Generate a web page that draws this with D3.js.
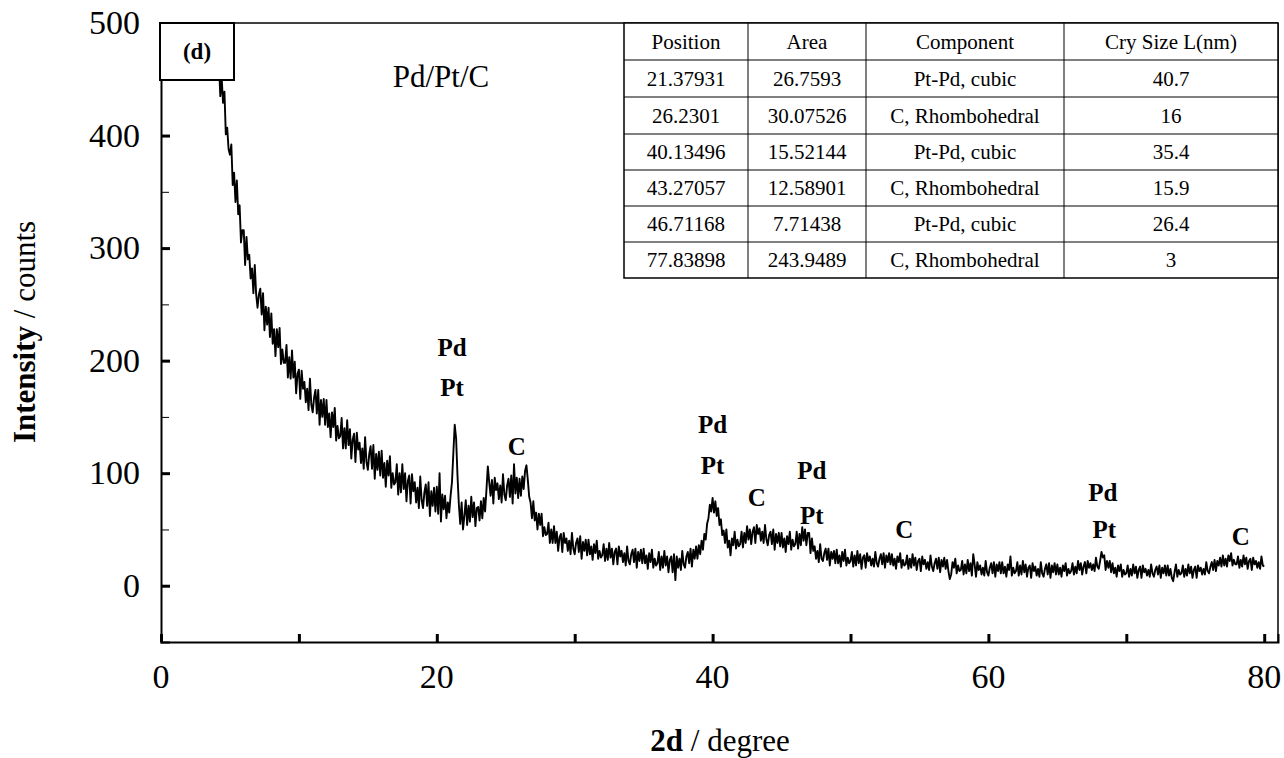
<!DOCTYPE html>
<html><head><meta charset="utf-8">
<script src="https://cdn.jsdelivr.net/npm/d3@7"></script>
<style>
body{margin:0;background:#fff}
svg{display:block}
svg text{font-family:"Liberation Serif","Times New Roman",Times,serif;fill:#000}
</style>
</head><body>
<svg id="chart" width="1284" height="758"></svg>
<script>
// ---------- DATA ----------
const angleStart = 4.0, angleStep = 0.1;
const intensity = [
494,461,466,435,451,429,439,401,407,388,
383,392,356,367,341,360,330,338,305,316,
316,285,310,290,294,273,282,260,285,259,
247,259,264,241,260,227,248,232,247,221,
242,215,228,204,228,212,229,197,210,198,
198,214,185,203,184,209,185,199,171,188,
192,166,191,175,181,163,175,156,184,161,
154,167,174,153,174,143,165,150,166,143,
165,141,153,132,154,141,158,129,142,131,
133,149,122,140,122,147,125,139,113,130,
135,110,136,121,127,109,122,104,132,110,
103,117,124,104,125,95,117,103,119,98,
120,96,109,88,111,98,115,87,100,90,
92,108,81,100,83,108,86,100,75,93,
98,73,99,84,92,74,87,69,97,76,
69,83,90,71,92,62,84,71,87,66,
88,64,100,57,81,68,80,60,74,65,
80,92,118,143,131,98,72,55,74,50,
62,76,54,71,57,79,61,74,53,69,
70,58,75,60,78,66,85,106,92,80,
94,73,96,85,91,77,89,74,99,81,
76,89,95,79,98,73,108,82,96,78,
95,80,97,86,102,107,94,79,74,60,
75,58,65,50,64,54,64,44,52,45,
46,56,38,50,38,53,38,48,31,43,
46,30,47,38,42,31,40,28,47,33,
28,38,42,30,44,24,39,31,41,27,
41,28,35,23,37,29,40,24,31,25,
27,37,22,33,23,38,25,33,19,30,
33,19,35,26,31,21,29,18,35,22,
19,28,32,21,33,16,30,22,32,20,
33,20,27,15,29,21,32,16,24,18,
20,30,14,26,16,31,18,26,12,23,
26,12,28,5,26,16,24,14,31,19,
16,26,30,20,33,17,32,24,35,24,
36,28,40,32,46,41,55,60,72,66,
78,65,75,62,69,54,59,45,49,38,
50,34,40,27,42,36,48,33,41,35,
37,48,34,47,38,53,41,50,37,48,
52,38,54,46,51,40,48,38,54,41,
36,45,48,37,50,32,46,38,47,35,
47,34,42,30,44,37,48,32,41,35,
37,48,33,46,36,52,40,50,36,47,
47,29,42,31,35,24,31,21,37,24,
22,29,33,23,33,18,30,24,31,20,
32,20,27,17,30,22,32,18,25,20,
22,30,17,27,18,31,20,28,15,25,
27,16,29,22,26,18,24,17,30,20,
17,24,28,19,29,16,27,21,29,19,
28,18,24,15,26,21,29,16,23,18,
19,27,15,24,16,28,18,25,14,22,
24,13,26,19,23,15,21,14,27,17,
13,20,24,15,25,12,23,17,25,15,
23,13,6,10,21,16,24,11,18,13,
14,22,10,19,11,23,13,20,9,28,
19,8,21,14,18,10,16,9,22,12,
9,16,20,11,21,8,19,13,21,11,
21,11,17,8,19,14,26,9,16,11,
13,21,9,18,10,22,12,19,8,16,
18,7,20,13,17,9,15,8,21,11,
8,15,19,10,20,7,18,12,20,10,
19,10,16,8,18,13,20,9,15,11,
13,20,10,17,11,22,14,20,10,17,
21,11,22,16,20,14,19,13,25,17,
15,22,30,25,27,14,22,16,22,12,
20,11,16,8,18,13,19,8,14,10,
11,18,8,15,9,19,11,17,7,14,
17,7,18,12,15,9,14,8,19,11,
8,14,17,10,18,7,16,11,18,9,
18,9,15,7,4,12,19,8,14,10,
11,18,8,15,9,19,11,17,7,14,
17,7,18,13,16,10,15,10,21,13,
11,17,21,14,23,13,22,18,25,17,
27,18,24,17,27,22,29,18,23,19,
19,26,16,23,17,27,19,25,15,22,
24,14,25,19,22,16,21,15,26,18,
17
];

const xTicks = [0, 10, 20, 30, 40, 50, 60, 70, 80];
const xTickLabels = [0, 20, 40, 60, 80];
const yMajorTicks = [0, 100, 200, 300, 400, 500];
const yMinorTicks = [-50, 50, 150, 250, 350, 450];

const peakLabelText = ["Pd","Pt","C","Pd","Pt","C","Pd","Pt","C","Pd","Pt","C"];
const peakLabelAngle = [21.1,21.1,25.8,40.0,40.0,43.2,47.2,47.2,53.9,68.3,68.4,78.3];
const peakLabelCount = [204,169,116,136,99,71,95,55,42,75,42,36];

const tableHeader = ["Position","Area","Component","Cry Size L(nm)"];
const tablePosition = ["21.37931","26.2301","40.13496","43.27057","46.71168","77.83898"];
const tableArea = ["26.7593","30.07526","15.52144","12.58901","7.71438","243.9489"];
const tableComponent = ["Pt-Pd, cubic","C, Rhombohedral","Pt-Pd, cubic","C, Rhombohedral","Pt-Pd, cubic","C, Rhombohedral"];
const tableCrySize = ["40.7","16","35.4","15.9","26.4","3"];

const panelLabel = "(d)";
const sampleLabel = "Pd/Pt/C";

// ---------- LAYOUT ----------
const svg = d3.select("#chart");
const L = 161, R = 1278, T = 23, B = 642;
const x = d3.scaleLinear().domain([0, 81]).range([L, R]);
const y = d3.scaleLinear().domain([-50, 500]).range([B, T]);

const data = intensity.map((v, i) => ({a: angleStart + i * angleStep, v}));

svg.append("defs").append("clipPath").attr("id","clip")
  .append("rect").attr("x",L).attr("y",T).attr("width",R-L).attr("height",B-T);

svg.append("path").datum(data)
  .attr("clip-path","url(#clip)")
  .attr("fill","none").attr("stroke","#000").attr("stroke-width",1.9)
  .attr("stroke-linejoin","round")
  .attr("d", d3.line().x(d => x(d.a)).y(d => y(d.v)));

// frame top/right
svg.append("line").attr("x1",L).attr("x2",R).attr("y1",T).attr("y2",T).attr("stroke","#000").attr("stroke-width",1.5);
svg.append("line").attr("x1",R).attr("x2",R).attr("y1",T).attr("y2",B).attr("stroke","#000").attr("stroke-width",1.5);

// x axis
const xAxis = d3.axisBottom(x).tickValues(xTicks).tickSize(-8).tickFormat("");
const gx = svg.append("g").attr("transform",`translate(0,${B})`).call(xAxis);
gx.select(".domain").attr("stroke","#000").attr("stroke-width",2);
gx.selectAll(".tick line").attr("stroke","#000").attr("stroke-width",3);
svg.append("g").selectAll("text").data(xTickLabels).join("text")
  .attr("x", d => x(d)).attr("y", 688)
  .attr("text-anchor","middle").attr("font-size",34)
  .text(d => d);

// y axis
const yAxis = d3.axisLeft(y).tickValues(yMajorTicks).tickSize(-9).tickFormat("");
const gy = svg.append("g").attr("transform",`translate(${L},0)`).call(yAxis);
gy.select(".domain").attr("stroke","#000").attr("stroke-width",2);
gy.selectAll(".tick line").attr("stroke","#000").attr("stroke-width",3);
const yAxisMinor = d3.axisLeft(y).tickValues(yMinorTicks).tickSize(-8).tickFormat("");
const gym = svg.append("g").attr("transform",`translate(${L},0)`).call(yAxisMinor);
gym.select(".domain").remove();
gym.selectAll(".tick line").attr("stroke","#000").attr("stroke-width",1);
svg.append("g").selectAll("text").data(yMajorTicks).join("text")
  .attr("x", 140).attr("y", d => y(d) + 11)
  .attr("text-anchor","end").attr("font-size",34)
  .text(d => d);

// axis titles
const yt = svg.append("text").attr("transform","translate(35,332) rotate(-90)")
  .attr("text-anchor","middle").attr("font-size",31);
yt.append("tspan").attr("font-weight","bold").text("Intensity");
yt.append("tspan").text(" / counts");
const xt = svg.append("text").attr("x",720).attr("y",751)
  .attr("text-anchor","middle").attr("font-size",31);
xt.append("tspan").attr("font-weight","bold").text("2d");
xt.append("tspan").text(" / degree");

// peak labels
svg.append("g").selectAll("text").data(peakLabelText).join("text")
  .attr("x", (d,i) => x(peakLabelAngle[i])).attr("y", (d,i) => y(peakLabelCount[i]))
  .attr("text-anchor","middle").attr("font-weight","bold").attr("font-size",25)
  .text(d => d);

// panel label box
svg.append("rect").attr("x",L-1).attr("y",T).attr("width",74).attr("height",57)
  .attr("fill","#fff").attr("stroke","#000").attr("stroke-width",2);
svg.append("text").attr("x",L+36).attr("y",T+36).attr("text-anchor","middle")
  .attr("font-weight","bold").attr("font-size",23).text(panelLabel);
svg.append("text").attr("x",441).attr("y",87).attr("text-anchor","middle")
  .attr("font-size",31).text(sampleLabel);

// table
const colEdges = [624, 748, 866, 1064, R];
const rowEdges = [T, 60, 97, 134, 170, 206, 242, 278];
const tg = svg.append("g");
tg.append("rect").attr("x",colEdges[0]).attr("y",T).attr("width",R-colEdges[0]).attr("height",rowEdges[7]-T)
  .attr("fill","#fff").attr("stroke","none");
rowEdges.slice(1,7).forEach(r => tg.append("line").attr("x1",colEdges[0]).attr("x2",R).attr("y1",r).attr("y2",r).attr("stroke","#000").attr("stroke-width",1));
colEdges.slice(1,4).forEach(c => tg.append("line").attr("x1",c).attr("x2",c).attr("y1",T).attr("y2",rowEdges[7]).attr("stroke","#000").attr("stroke-width",1));
tg.append("rect").attr("x",colEdges[0]).attr("y",T).attr("width",R-colEdges[0]).attr("height",rowEdges[7]-T)
  .attr("fill","none").attr("stroke","#000").attr("stroke-width",1.5);
const cols = [tablePosition, tableArea, tableComponent, tableCrySize];
const cellText = (txt, ci, ri) => tg.append("text")
  .attr("x", (colEdges[ci] + colEdges[ci+1]) / 2)
  .attr("y", (rowEdges[ri] + rowEdges[ri+1]) / 2 + 7)
  .attr("text-anchor","middle").attr("font-size",21).text(txt);
tableHeader.forEach((h, ci) => cellText(h, ci, 0));
cols.forEach((col, ci) => col.forEach((v, ri) => cellText(v, ci, ri + 1)));
</script>
</body></html>
